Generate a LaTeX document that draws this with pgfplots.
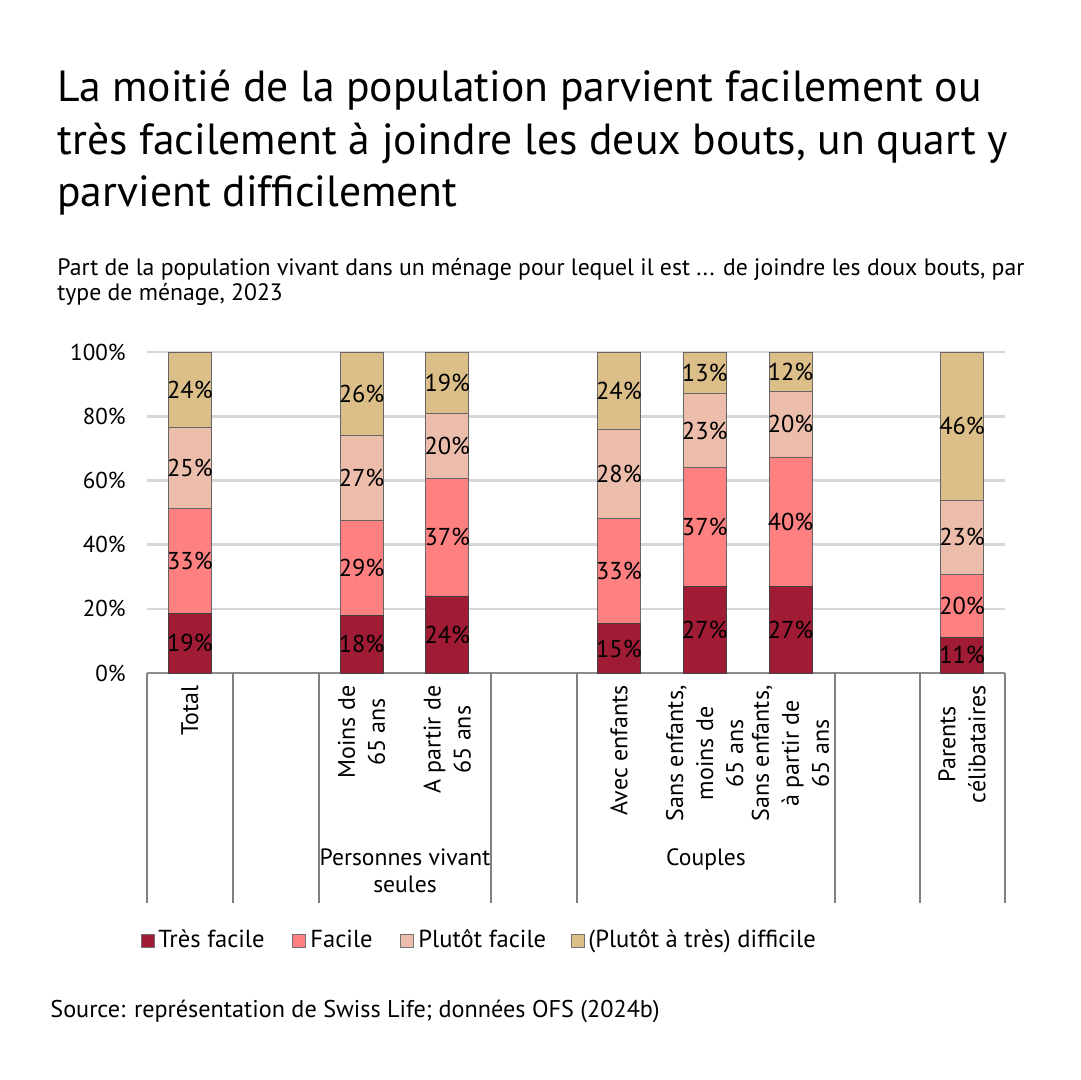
\documentclass[border=0pt]{standalone}
\usepackage{fontspec}
\setmainfont{PT Sans}
\usepackage{pgfplots}
\pgfplotsset{compat=1.18}
\definecolor{c1}{RGB}{160,27,52}
\definecolor{c2}{RGB}{255,128,128}
\definecolor{c3}{RGB}{236,189,170}
\definecolor{c4}{RGB}{220,190,136}
\pgfplotstableread{
x  tf    f     pf    d
0  18.6  32.6  25.2  23.6
2  18.0  29.4  26.7  25.9
3  24.0  36.7  20.3  19.0
5  15.3  33.0  27.7  24.0
6  27.1  36.8  23.3  12.8
7  26.9  40.4  20.3  12.4
9  11.2  19.6  23.1  46.1
}\data
\begin{document}
\begin{tikzpicture}
\begin{scope}[x=0.5pt,y=-0.5pt]
\path[use as bounding box] (0,0) rectangle (1080,1080);
\begin{scope}[font=\fontsize{21.8}{26}\selectfont]
\node[anchor=base west, inner sep=0pt] at (57,102) {La moitié de la population parvient facilement ou};
\node[anchor=base west, inner sep=0pt] at (57,155) {très facilement à joindre les deux bouts, un quart y};
\node[anchor=base west, inner sep=0pt] at (57,207) {parvient difficilement};
\end{scope}
\begin{scope}[font=\fontsize{11.85}{13}\selectfont]
\node[anchor=base west, inner sep=0pt] at (57,276) {Part de la population vivant dans un ménage pour lequel il est ... de joindre les doux bouts, par};
\node[anchor=base west, inner sep=0pt] at (57,301) {type de ménage, 2023};
\end{scope}
\node[anchor=base west, inner sep=0pt, font=\fontsize{12.1}{13}\selectfont] at (50,1017) {Source: représentation de Swiss Life; données OFS (2024b)};
\end{scope}
\begin{axis}[
  at={(73.5pt,-336.5pt)}, anchor=south west,
  width=429pt, height=160.5pt, scale only axis,
  xmin=-0.5, xmax=9.5, ymin=0, ymax=100,
  ybar stacked, bar width=0.5,
  axis x line*=bottom, axis y line*=left,
  x axis line style={-, draw=black!45, line width=0.6pt},
  y axis line style={draw=none},
  ytick={0,20,40,60,80,100},
  yticklabels={0\%,20\%,40\%,60\%,80\%,100\%},
  ytick style={draw=none},
  yticklabel style={font=\fontsize{11.5}{12}\selectfont, anchor=east, inner sep=0pt, xshift=-10.5pt},
  ymajorgrids, major grid style={draw=black!16, line width=1.3pt},
  xtick={0,2,3,5,6,7,9},
  xticklabels={Total, {Moins de\\65 ans}, {A partir de\\65 ans}, Avec enfants, {Sans enfants,\\moins de\\65 ans}, {Sans enfants,\\à partir de\\65 ans}, {Parents\\célibataires}},
  xtick style={draw=none},
  xticklabel style={yshift=-6pt, rotate=90, anchor=east, align=center, inner sep=0pt, font=\fontsize{12}{15}\selectfont},
  /pgf/number format/assume math mode=true,
  nodes near coords={\pgfmathprintnumber[fixed,precision=0]{\pgfplotspointmeta}\%},
  every node near coord/.append style={font=\fontsize{12.2}{13}\selectfont, anchor=center, inner sep=0pt},
  clip=false,
]
\addplot[fill=c1, draw=black!75, line width=0.4pt] table[x=x,y=tf]{\data};
\addplot[fill=c2, draw=black!60, line width=0.4pt] table[x=x,y=f]{\data};
\addplot[fill=c3, draw=black!60, line width=0.4pt] table[x=x,y=pf]{\data};
\addplot[fill=c4, draw=black!60, line width=0.4pt] table[x=x,y=d]{\data};
\end{axis}
\begin{scope}[x=0.5pt,y=-0.5pt]
\foreach \xx in {147,233,319,491,577,835,920,1005}{
  \draw[black!50, line width=0.6pt] (\xx,673) -- (\xx,903);
}
\node[font=\fontsize{11.8}{13.5}\selectfont, align=center, anchor=north, inner sep=0pt] at (405,848) {Personnes vivant\\seules};
\node[font=\fontsize{11.8}{13.5}\selectfont, anchor=north, inner sep=0pt] at (706,848) {Couples};
% legend
\begin{scope}[font=\fontsize{12.3}{14}\selectfont]
\draw[fill=c1, draw=black!55, line width=0.4pt] (141,934) rectangle (154,947);
\node[anchor=base west, inner sep=0pt] at (158,947) {Très facile};
\draw[fill=c2, draw=black!55, line width=0.4pt] (292,934) rectangle (305,947);
\node[anchor=base west, inner sep=0pt] at (310,947) {Facile};
\draw[fill=c3, draw=black!55, line width=0.4pt] (400,934) rectangle (413,947);
\node[anchor=base west, inner sep=0pt] at (418,947) {Plutôt facile};
\draw[fill=c4, draw=black!55, line width=0.4pt] (571,934) rectangle (584,947);
\node[anchor=base west, inner sep=0pt] at (588,947) {(Plutôt à très) difficile};
\end{scope}
\end{scope}
\end{tikzpicture}
\end{document}
